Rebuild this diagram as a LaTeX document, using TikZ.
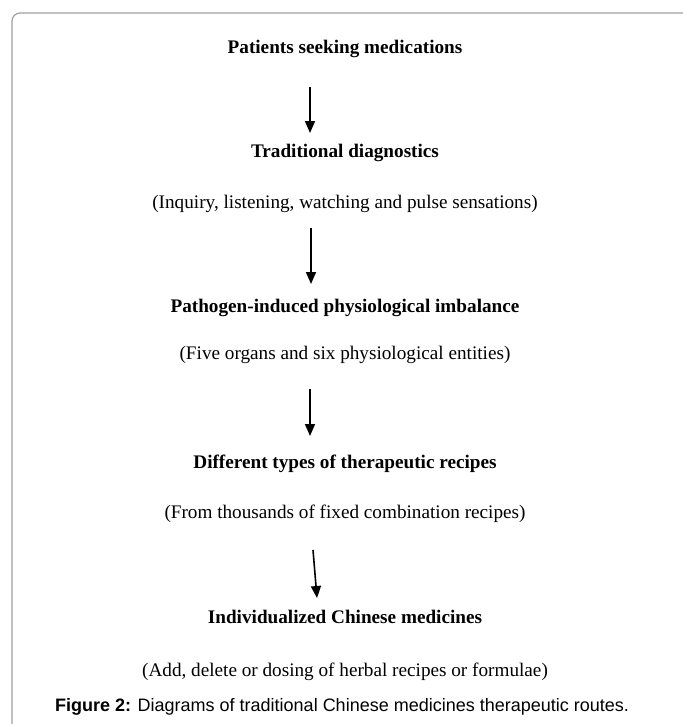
\documentclass[tikz,border=0pt]{standalone}
\usepackage{fontspec}
\setmainfont{Liberation Serif}
\setsansfont{Liberation Sans}
\usetikzlibrary{arrows.meta,positioning,calc}
\definecolor{FrameGray}{HTML}{A0A0A0}

\begin{document}
\begin{tikzpicture}[x=1pt,y=-1pt,
  step title/.style={anchor=base, font=\fontsize{19.2}{23}\selectfont\bfseries},
  step note/.style={anchor=base, font=\fontsize{19.2}{23}\selectfont},
  route/.style={-{Triangle[length=12pt,width=10pt]}, line width=1.6pt}
]
  \useasboundingbox (0,0) rectangle (683,724);

  % frame, open to the right and below
  \draw[FrameGray, line width=1.2pt, rounded corners=8pt] (12,724) -- (12,13) -- (683,13);

  \node[step title] (patients) at (345,53) {Patients seeking medications};

  \node[step title] (diag) at (345,157) {Traditional diagnostics};
  \node[step note] (diagnote) at (345,208) {(Inquiry, listening, watching and pulse sensations)};

  \node[step title] (imbal) at (345,312) {Pathogen-induced physiological imbalance};
  \node[step note] (imbalnote) at (345,359) {(Five organs and six physiological entities)};

  \node[step title] (recipes) at (345,468) {Different types of therapeutic recipes};
  \node[step note] (recipesnote) at (345,518) {(From thousands of fixed combination recipes)};

  \node[step title] (indiv) at (345,623) {Individualized Chinese medicines};
  \node[step note] (indivnote) at (345,676) {(Add, delete or dosing of herbal recipes or formulae)};

  \node[anchor=base, font=\fontsize{18}{22}\selectfont\sffamily] (caption) at (342,711)
    {\textbf{Figure 2:} Diagrams of traditional Chinese medicines therapeutic routes.};

  % arrow ends
  \coordinate (r1a) at (310,87);
  \coordinate (r1b) at (310,133);
  \coordinate (r2a) at (311,228);
  \coordinate (r2b) at (311,284);
  \coordinate (r3a) at (310,389);
  \coordinate (r3b) at (310,436);
  \coordinate (r4a) at (313,550);
  \coordinate (r4b) at (317,598);

  \draw[route] (r1a) -- (r1b);
  \draw[route] (r2a) -- (r2b);
  \draw[route] (r3a) -- (r3b);
  \draw[route] (r4a) -- (r4b);

\end{tikzpicture}
\end{document}
